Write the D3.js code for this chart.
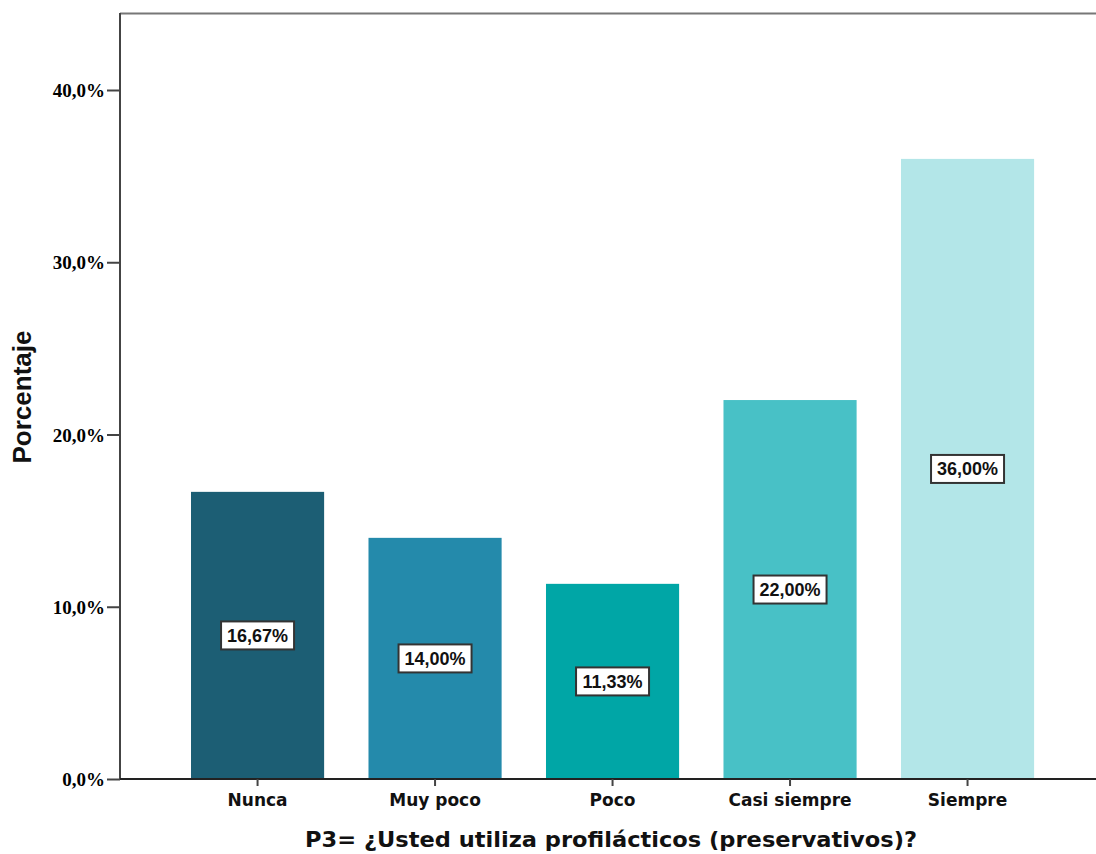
<!DOCTYPE html>
<html><head><meta charset="utf-8">
<script src="https://cdn.jsdelivr.net/npm/d3@7"></script>
<style>body{margin:0;background:#fff}</style>
</head><body>
<svg id="c" width="1096" height="854"></svg>
<script>
const categories = ["Nunca","Muy poco","Poco","Casi siempre","Siempre"];
const values = [16.67, 14.00, 11.33, 22.00, 36.00];
const valueLabels = ["16,67%","14,00%","11,33%","22,00%","36,00%"];
const colors = ["#1c5e74","#248aab","#00a6a6","#48c1c6","#b3e6e8"];
const yTicks = [0,10,20,30,40];
const yTickLabels = ["0,0%","10,0%","20,0%","30,0%","40,0%"];
const xTitle = "P3= ¿Usted utiliza profilácticos (preservativos)?";
const yTitle = "Porcentaje";

const svg = d3.select("#c");
const x = d3.scaleBand().domain(categories).range([120, 1105.1]).paddingInner(0.25).paddingOuter(0.4);
const y = d3.scaleLinear().domain([0, 44.47]).range([779, 13]);

// top frame
svg.append("line").attr("x1",120).attr("x2",1096).attr("y1",13.5).attr("y2",13.5)
  .attr("stroke","#777").attr("stroke-width",2);

// bars
svg.selectAll("rect.bar").data(values).enter().append("rect")
  .attr("x",(d,i)=>x(categories[i])).attr("width",x.bandwidth())
  .attr("y",d=>y(d)).attr("height",d=>y(0)-y(d))
  .attr("fill",(d,i)=>colors[i]);

// y axis
const ya = svg.append("g").attr("transform","translate(120,0)")
  .call(d3.axisLeft(y).tickValues(yTicks).tickFormat((d,i)=>yTickLabels[i]).tickSize(13).tickPadding(2));
ya.select(".domain").attr("stroke","#444").attr("stroke-width",2).attr("d","M0,779V13");
ya.selectAll(".tick line").attr("stroke","#444").attr("stroke-width",2);
ya.selectAll(".tick text").style("font-family","'Liberation Serif', serif").style("font-weight","bold")
  .style("font-size","19px").attr("fill","#000").attr("dy","0.35em");

// x axis
const xa = svg.append("g").attr("transform","translate(0,779)")
  .call(d3.axisBottom(x).tickSize(7).tickPadding(8));
xa.select(".domain").attr("stroke","#222").attr("stroke-width",2).attr("d","M120,0H1096");
xa.selectAll(".tick line").attr("stroke","#444").attr("stroke-width",2);
xa.selectAll(".tick text").style("font-family","'DejaVu Sans', sans-serif").style("font-weight","bold")
  .style("font-size","17px").attr("fill","#111");

// value labels
const lab = svg.selectAll("g.lab").data(values).enter().append("g")
  .attr("transform",(d,i)=>`translate(${x(categories[i])+x.bandwidth()/2},${y(d/2)})`);
lab.append("rect").attr("x",-36.5).attr("y",-14).attr("width",73).attr("height",28)
  .attr("fill","#fff").attr("stroke","#333").attr("stroke-width",2);
lab.append("text").text((d,i)=>valueLabels[i]).attr("text-anchor","middle").attr("dy","0.36em")
  .style("font-family","'Liberation Sans', Arial, sans-serif").style("font-weight","bold")
  .style("font-size","18px").attr("fill","#111");

// titles
svg.append("text").text(xTitle).attr("x",611).attr("y",847).attr("text-anchor","middle")
  .attr("textLength",612).attr("lengthAdjust","spacingAndGlyphs")
  .style("font-family","'DejaVu Sans', sans-serif").style("font-weight","bold").style("font-size","21px").attr("fill","#111");
svg.append("text").text(yTitle).attr("transform","translate(31,397) rotate(-90)").attr("text-anchor","middle")
  .style("font-family","'Liberation Sans', Arial, sans-serif").style("font-weight","bold").style("font-size","26px").attr("fill","#111");
</script>
</body></html>
